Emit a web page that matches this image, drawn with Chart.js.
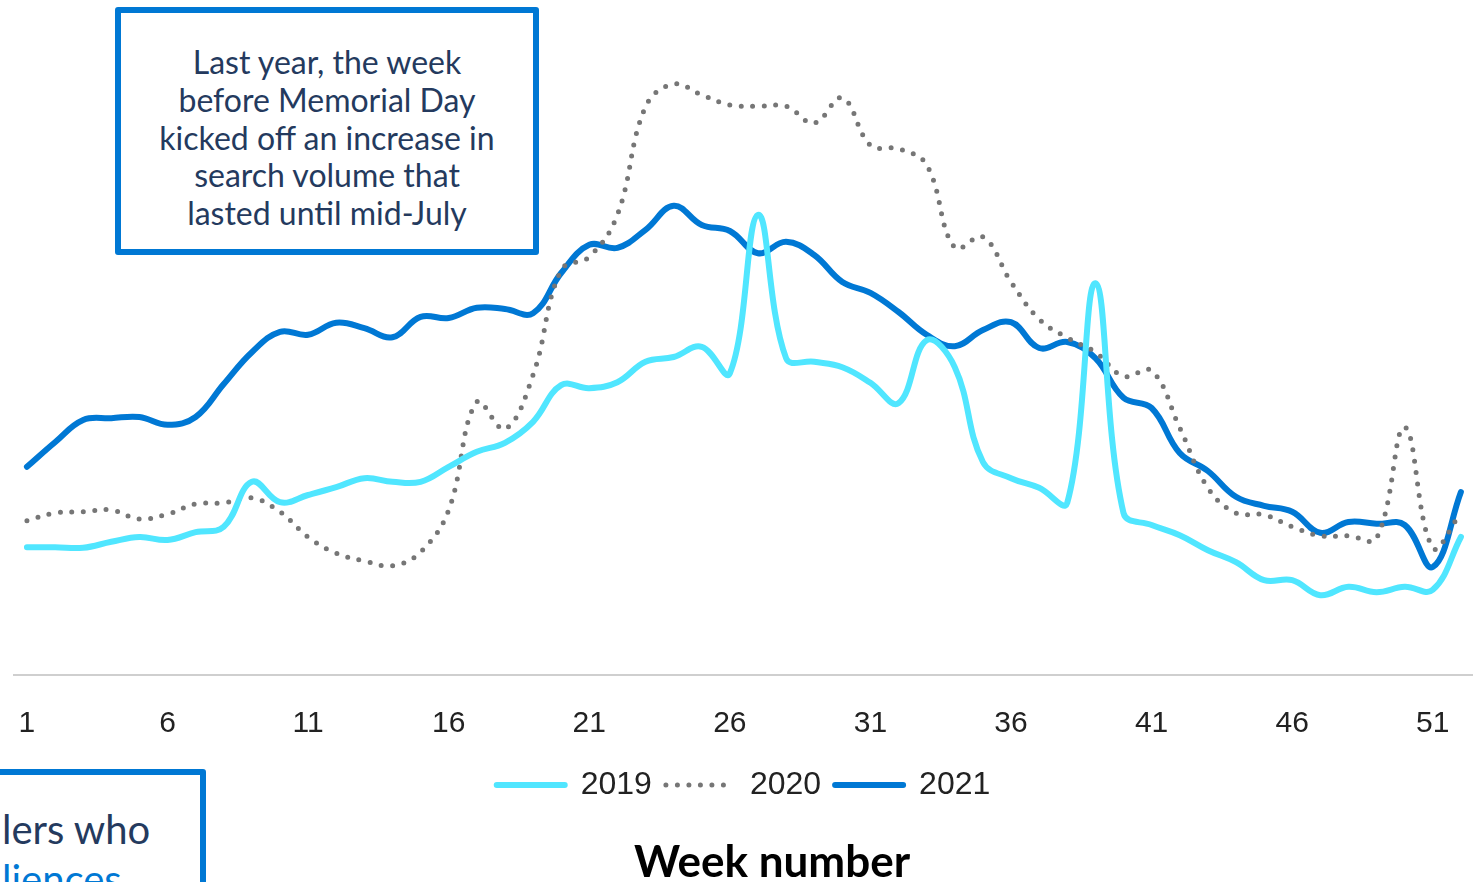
<!DOCTYPE html>
<html>
<head>
<meta charset="utf-8">
<script src="https://cdn.jsdelivr.net/npm/chart.js@4.4.1/dist/chart.umd.min.js"></script>
<style>
  html, body { margin: 0; padding: 0; background: #fff; overflow: hidden; }
  body { width: 1473px; height: 882px; position: relative; font-family: Lato, "Open Sans", sans-serif; }
  #wrap { position: absolute; left: 0; top: 0; width: 1473px; height: 882px; }
  .note { position: absolute; box-sizing: border-box; border: 6px solid #0078d4; border-radius: 3px; background: #fff; color: #243a5e; }
  #note1 { left: 115px; top: 7px; width: 424px; height: 248px; text-align: center; font-size: 32px; line-height: 37.75px; padding-top: 30px; }
  #note2 { left: -300px; top: 769px; width: 506px; height: 200px; font-size: 40px; line-height: 50px; }
  #note2 span { position: absolute; left: 296px; }
  #xtitle { position: absolute; left: 572px; width: 400px; top: 835px; text-align: center; font-size: 44px; line-height: 50px; font-weight: bold; color: #000; }
</style>
</head>
<body>
<div id="wrap"><canvas id="chart"></canvas></div>
<div class="note" id="note1">Last year, the week<br>before Memorial Day<br>kicked off an increase in<br>search volume that<br>lasted until mid-July</div>
<div class="note" id="note2"><span style="top:29px">lers who</span><span style="top:79px;color:#0078d4">liences</span></div>
<div id="xtitle">Week number</div>
<script>
// weeks 1..52
const weeks = Array.from({ length: 52 }, (_, i) => i + 1);
const tickWeeks = [1, 6, 11, 16, 21, 26, 31, 36, 41, 46, 51];

// search volume index
const s2019 = [21.3, 21.3, 21.2, 22.2, 23.0, 22.5, 23.8, 24.7, 32.2, 28.8,
  30.0, 31.3, 32.8, 32.2, 32.2, 34.7, 37.2, 38.7, 42.2, 48.3,
  47.8, 48.8, 52.2, 53.0, 54.7, 50.3, 76.7, 52.8, 52.2, 51.3,
  48.7, 45.3, 55.8, 51.3, 35.5, 32.8, 31.2, 28.7, 65.3, 27.0,
  25.0, 23.3, 20.8, 18.8, 15.8, 15.8, 13.3, 14.7, 13.8, 14.7,
  14.2, 23.0];
const s2020 = [25.7, 27.0, 27.2, 27.5, 26.0, 26.8, 28.5, 28.7, 29.5, 27.2,
  23.0, 20.3, 19.0, 18.2, 20.5, 27.5, 45.5, 41.0, 50.0, 67.5,
  69.7, 76.7, 94.7, 98.5, 96.7, 95.0, 94.8, 94.8, 92.0, 96.2,
  88.3, 87.7, 85.0, 71.2, 73.0, 65.5, 59.3, 56.2, 53.8, 49.8,
  50.7, 41.2, 31.2, 27.0, 26.7, 24.7, 23.2, 23.2, 22.8, 41.3,
  21.2, 27.0];
const s2021 = [34.7, 38.8, 42.5, 42.8, 43.0, 41.7, 43.0, 48.5, 53.8, 57.2,
  56.7, 58.7, 57.8, 56.3, 59.7, 59.5, 61.2, 61.0, 60.3, 67.0,
  71.7, 71.2, 74.2, 78.2, 75.0, 74.0, 70.3, 72.2, 70.0, 65.5,
  63.7, 60.5, 56.7, 54.8, 57.5, 58.8, 54.5, 55.5, 52.8, 46.2,
  44.5, 37.0, 34.0, 29.7, 28.2, 27.2, 23.7, 25.5, 25.2, 25.0,
  18.0, 30.5];

const toPoints = arr => arr.map((v, i) => ({ x: weeks[i], y: v }));

new Chart(document.getElementById('chart'), {
  type: 'line',
  data: {
    datasets: [
      { label: '2019', data: toPoints(s2019), borderColor: '#50e6ff', backgroundColor: '#50e6ff', borderWidth: 6, borderCapStyle: 'round' },
      { label: '2020', data: toPoints(s2020), borderColor: '#767676', backgroundColor: '#767676', borderWidth: 5, borderDash: [0, 11.5], borderCapStyle: 'round' },
      { label: '2021', data: toPoints(s2021), borderColor: '#0078d4', backgroundColor: '#0078d4', borderWidth: 6, borderCapStyle: 'round' }
    ]
  },
  options: {
    responsive: true,
    maintainAspectRatio: false,
    animation: false,
    elements: { point: { radius: 0 }, line: { tension: 0.4 } },
    layout: { padding: { left: 14, right: 0, top: 0, bottom: 71 } },
    scales: {
      x: {
        type: 'linear', min: 0.54, max: 52.43,
        afterBuildTicks: scale => { scale.ticks = tickWeeks.map(v => ({ value: v })); },
        afterFit: scale => { scale.paddingLeft = 0; scale.paddingRight = 0; scale.height = 80; },
        grid: { display: false },
        border: { display: true, color: '#cfcfcf', width: 2 },
        ticks: { color: '#222', font: { size: 30 }, padding: 23, maxRotation: 0, callback: v => String(v) }
      },
      y: { display: false, min: 0, max: 112.5 }
    },
    plugins: {
      tooltip: { enabled: false },
      legend: {
        position: 'bottom',
        labels: {
          usePointStyle: true, pointStyle: 'line', pointStyleWidth: 68,
          color: '#222', font: { size: 32 }, padding: 14,
          generateLabels: chart => Chart.defaults.plugins.legend.labels.generateLabels(chart).map(item => {
            const ds = chart.data.datasets[item.datasetIndex];
            return Object.assign(item, { lineDash: ds.borderDash || [], lineCap: 'round', lineWidth: ds.borderWidth, strokeStyle: ds.borderColor });
          })
        }
      }
    }
  }
});
</script>
</body>
</html>
